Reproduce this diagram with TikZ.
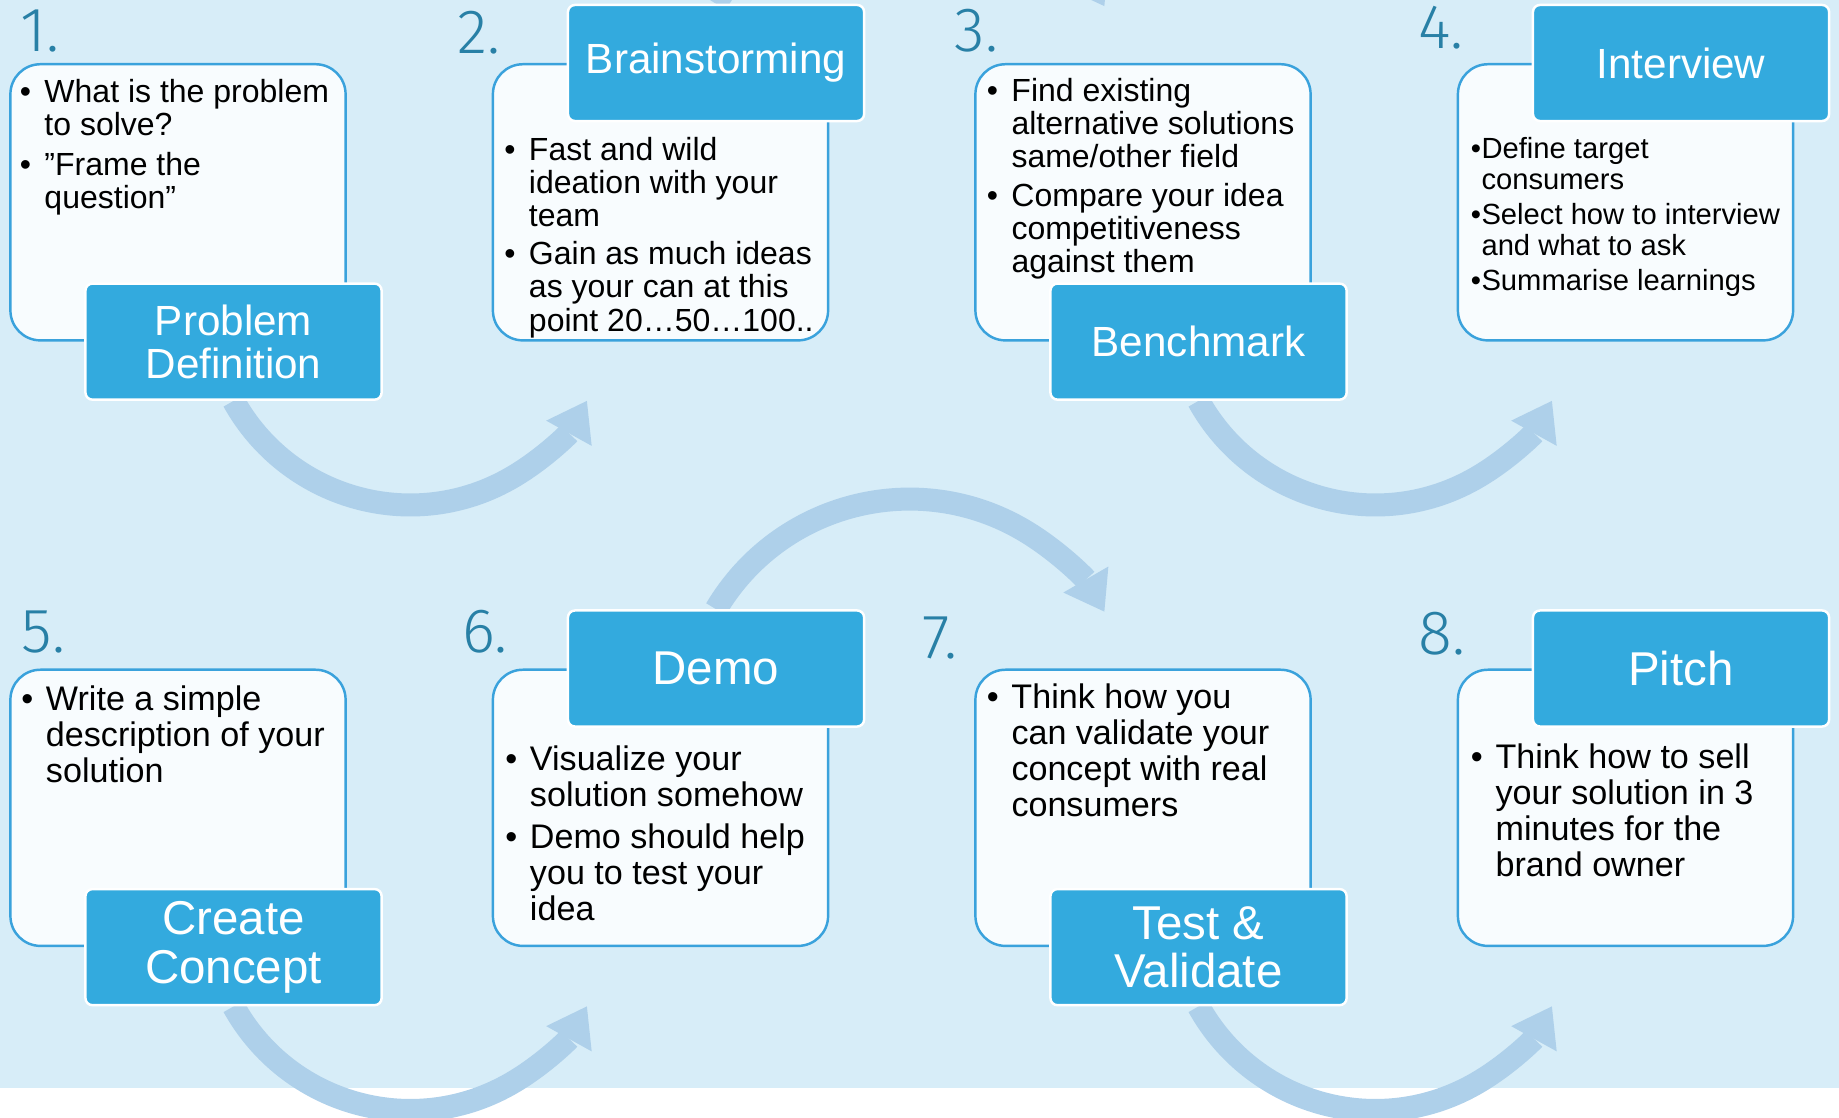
\documentclass[tikz,border=0pt]{standalone}
\usepackage{fontspec}
\setmainfont{Liberation Sans}
\newfontfamily\numfont{Fira Sans Light}
\usetikzlibrary{arrows.meta}

\pgfdeclarelayer{back}
\pgfdeclarelayer{flow}
\pgfsetlayers{back,flow,main}

\definecolor{bgblue}{HTML}{D7EDF8}
\definecolor{flowblue}{HTML}{AED0EA}
\definecolor{headblue}{HTML}{33AADE}
\definecolor{edgeblue}{HTML}{3AA2DC}
\definecolor{numteal}{HTML}{2880A6}
\definecolor{paper}{HTML}{F8FCFE}

% bullet lists: bullet box and the hanging pad of the next lines
\newlength\bulw
\setlength\bulw{7pt}
\newcommand\bulitem{\makebox[\bulw][l]{\textbullet}}
\newcommand\bulpad{\hspace*{\bulw}}
\newcommand\points[1]{\begin{tabular}[t]{@{}l@{}}#1\end{tabular}}

\tikzset{
  card/.style={draw=edgeblue, line width=0.7pt, fill=paper, rounded corners=0.3cm,
    minimum width=3.35cm, minimum height=2.76cm, inner sep=0pt},
  head/.style={draw=white, line width=0.7pt, fill=headblue, rounded corners=0.07cm,
    minimum width=2.96cm, minimum height=1.16cm, inner sep=0pt, text=white, align=center},
  toplab/.style={head, font=\fontsize{12pt}{12.3pt}\selectfont},
  botlab/.style={head, font=\fontsize{13.5pt}{13.8pt}\selectfont},
  body/.style={inner sep=0pt, anchor=base west},
  topbody/.style={body, font=\fontsize{9.1pt}{9.4pt}\selectfont},
  botbody/.style={body, font=\fontsize{9.7pt}{10.2pt}\selectfont},
  num/.style={inner sep=0pt, anchor=base west, text=numteal,
    font=\numfont\fontsize{17.8pt}{18pt}\selectfont},
  flow/.style={draw=flowblue, line width=0.23cm,
    -{Triangle[width=0.52cm, length=0.37cm, line width=0pt]}}
}

\begin{document}
\begin{tikzpicture}[x=0.01cm, y=-0.01cm]
\useasboundingbox (0,0) rectangle (1839,1118);

\begin{pgfonlayer}{back}
  \fill[bgblue] (0,0) rectangle (1839,1088);
\end{pgfonlayer}

% cards, upper and lower row
\node[card] (box1) at (178,202.3) {};
\node[card] (box2) at (660.5,202.3) {};
\node[card] (box3) at (1143,202.3) {};
\node[card] (box4) at (1625.5,202.3) {};
\node[card] (box5) at (178,807.8) {};
\node[card] (box6) at (660.5,807.8) {};
\node[card] (box7) at (1143,807.8) {};
\node[card] (box8) at (1625.5,807.8) {};

% headers sit on the bottom or top edge of their card
\node[toplab] (lab1) at ([xshift=0.555cm]box1.south) {Problem\\Definition};
\node[toplab] (lab2) at ([xshift=0.555cm]box2.north) {Brainstorming};
\node[toplab] (lab3) at ([xshift=0.555cm]box3.south) {Benchmark};
\node[toplab] (lab4) at ([xshift=0.555cm]box4.north) {Interview};
\node[botlab] (lab5) at ([xshift=0.555cm]box5.south) {Create\\Concept};
\node[botlab] (lab6) at ([xshift=0.555cm]box6.north) {Demo};
\node[botlab] (lab7) at ([xshift=0.555cm]box7.south) {Test \&\\Validate};
\node[botlab] (lab8) at ([xshift=0.555cm]box8.north) {Pitch};

% step numbers
\node[num] (num1) at ([shift={(11,-11.3)}]box1.north west) {1.};
\node[num] (num2) at ([shift={(-35,-9.3)}]box2.north west) {2.};
\node[num] (num3) at ([shift={(-20,-11.3)}]box3.north west) {3.};
\node[num] (num4) at ([shift={(-39,-14.3)}]box4.north west) {4.};
\node[num] (num5) at ([shift={(12,-15.8)}]box5.north west) {5.};
\node[num] (num6) at ([shift={(-30,-15.8)}]box6.north west) {6.};
\node[num] (num7) at ([shift={(-52,-10.2)}]box7.north west) {7.};
\node[num] (num8) at ([shift={(-39,-13.8)}]box8.north west) {8.};

% card texts
\node[topbody] (txt1) at ([shift={(10,39.5)}]box1.north west) {\points{
  \bulitem What is the problem\\
  \bulpad to solve?\\[2pt]
  \bulitem ”Frame the\\
  \bulpad question”}};
\node[topbody] (txt2) at ([shift={(12,97.7)}]box2.north west) {\points{
  \bulitem Fast and wild\\
  \bulpad ideation with your\\
  \bulpad team\\[1.4pt]
  \bulitem Gain as much ideas\\
  \bulpad as your can at this\\
  \bulpad point 20…50…100..}};
\node[topbody] (txt3) at ([shift={(12,38.5)}]box3.north west) {\points{
  \bulitem Find existing\\
  \bulpad alternative solutions\\
  \bulpad same/other field\\[1.7pt]
  \bulitem Compare your idea\\
  \bulpad competitiveness\\
  \bulpad against them}};
\node[body, font=\fontsize{8.3pt}{8.9pt}\selectfont] (txt4)
  at ([shift={(13.6,95.5)}]box4.north west) {\setlength\bulw{3pt}\points{
  \bulitem Define target\\
  \bulpad consumers\\[1pt]
  \bulitem Select how to interview\\
  \bulpad and what to ask\\[1pt]
  \bulitem Summarise learnings}};
\node[botbody] (txt5) at ([shift={(11.5,42.5)}]box5.north west) {\points{
  \bulitem Write a simple\\
  \bulpad description of your\\
  \bulpad solution}};
\node[botbody] (txt6) at ([shift={(13,102.5)}]box6.north west) {\points{
  \bulitem Visualize your\\
  \bulpad solution somehow\\[1.6pt]
  \bulitem Demo should help\\
  \bulpad you to test your\\
  \bulpad idea}};
\node[botbody] (txt7) at ([shift={(12,40.5)}]box7.north west) {\points{
  \bulitem Think how you\\
  \bulpad can validate your\\
  \bulpad concept with real\\
  \bulpad consumers}};
\node[botbody] (txt8) at ([shift={(13.6,100.5)}]box8.north west) {\points{
  \bulitem Think how to sell\\
  \bulpad your solution in 3\\
  \bulpad minutes for the\\
  \bulpad brand owner}};

% curved flow arrows between the steps
\begin{pgfonlayer}{flow}
  \begin{scope}
    \clip (0,0) rectangle (1839,1118);
    \draw[flow] (lab1.south) arc[start angle=151, end angle=29, radius=202];
    \draw[flow] (lab3.south) arc[start angle=151, end angle=29, radius=202];
    \draw[flow] (lab5.south) arc[start angle=151, end angle=29, radius=202];
    \draw[flow] (lab7.south) arc[start angle=151, end angle=29, radius=202];
    \draw[flow] (lab2.north) arc[start angle=210.7, end angle=330, radius=225];
    \draw[flow] (lab6.north) arc[start angle=210.7, end angle=330, radius=225];
  \end{scope}
\end{pgfonlayer}
\end{tikzpicture}
\end{document}
